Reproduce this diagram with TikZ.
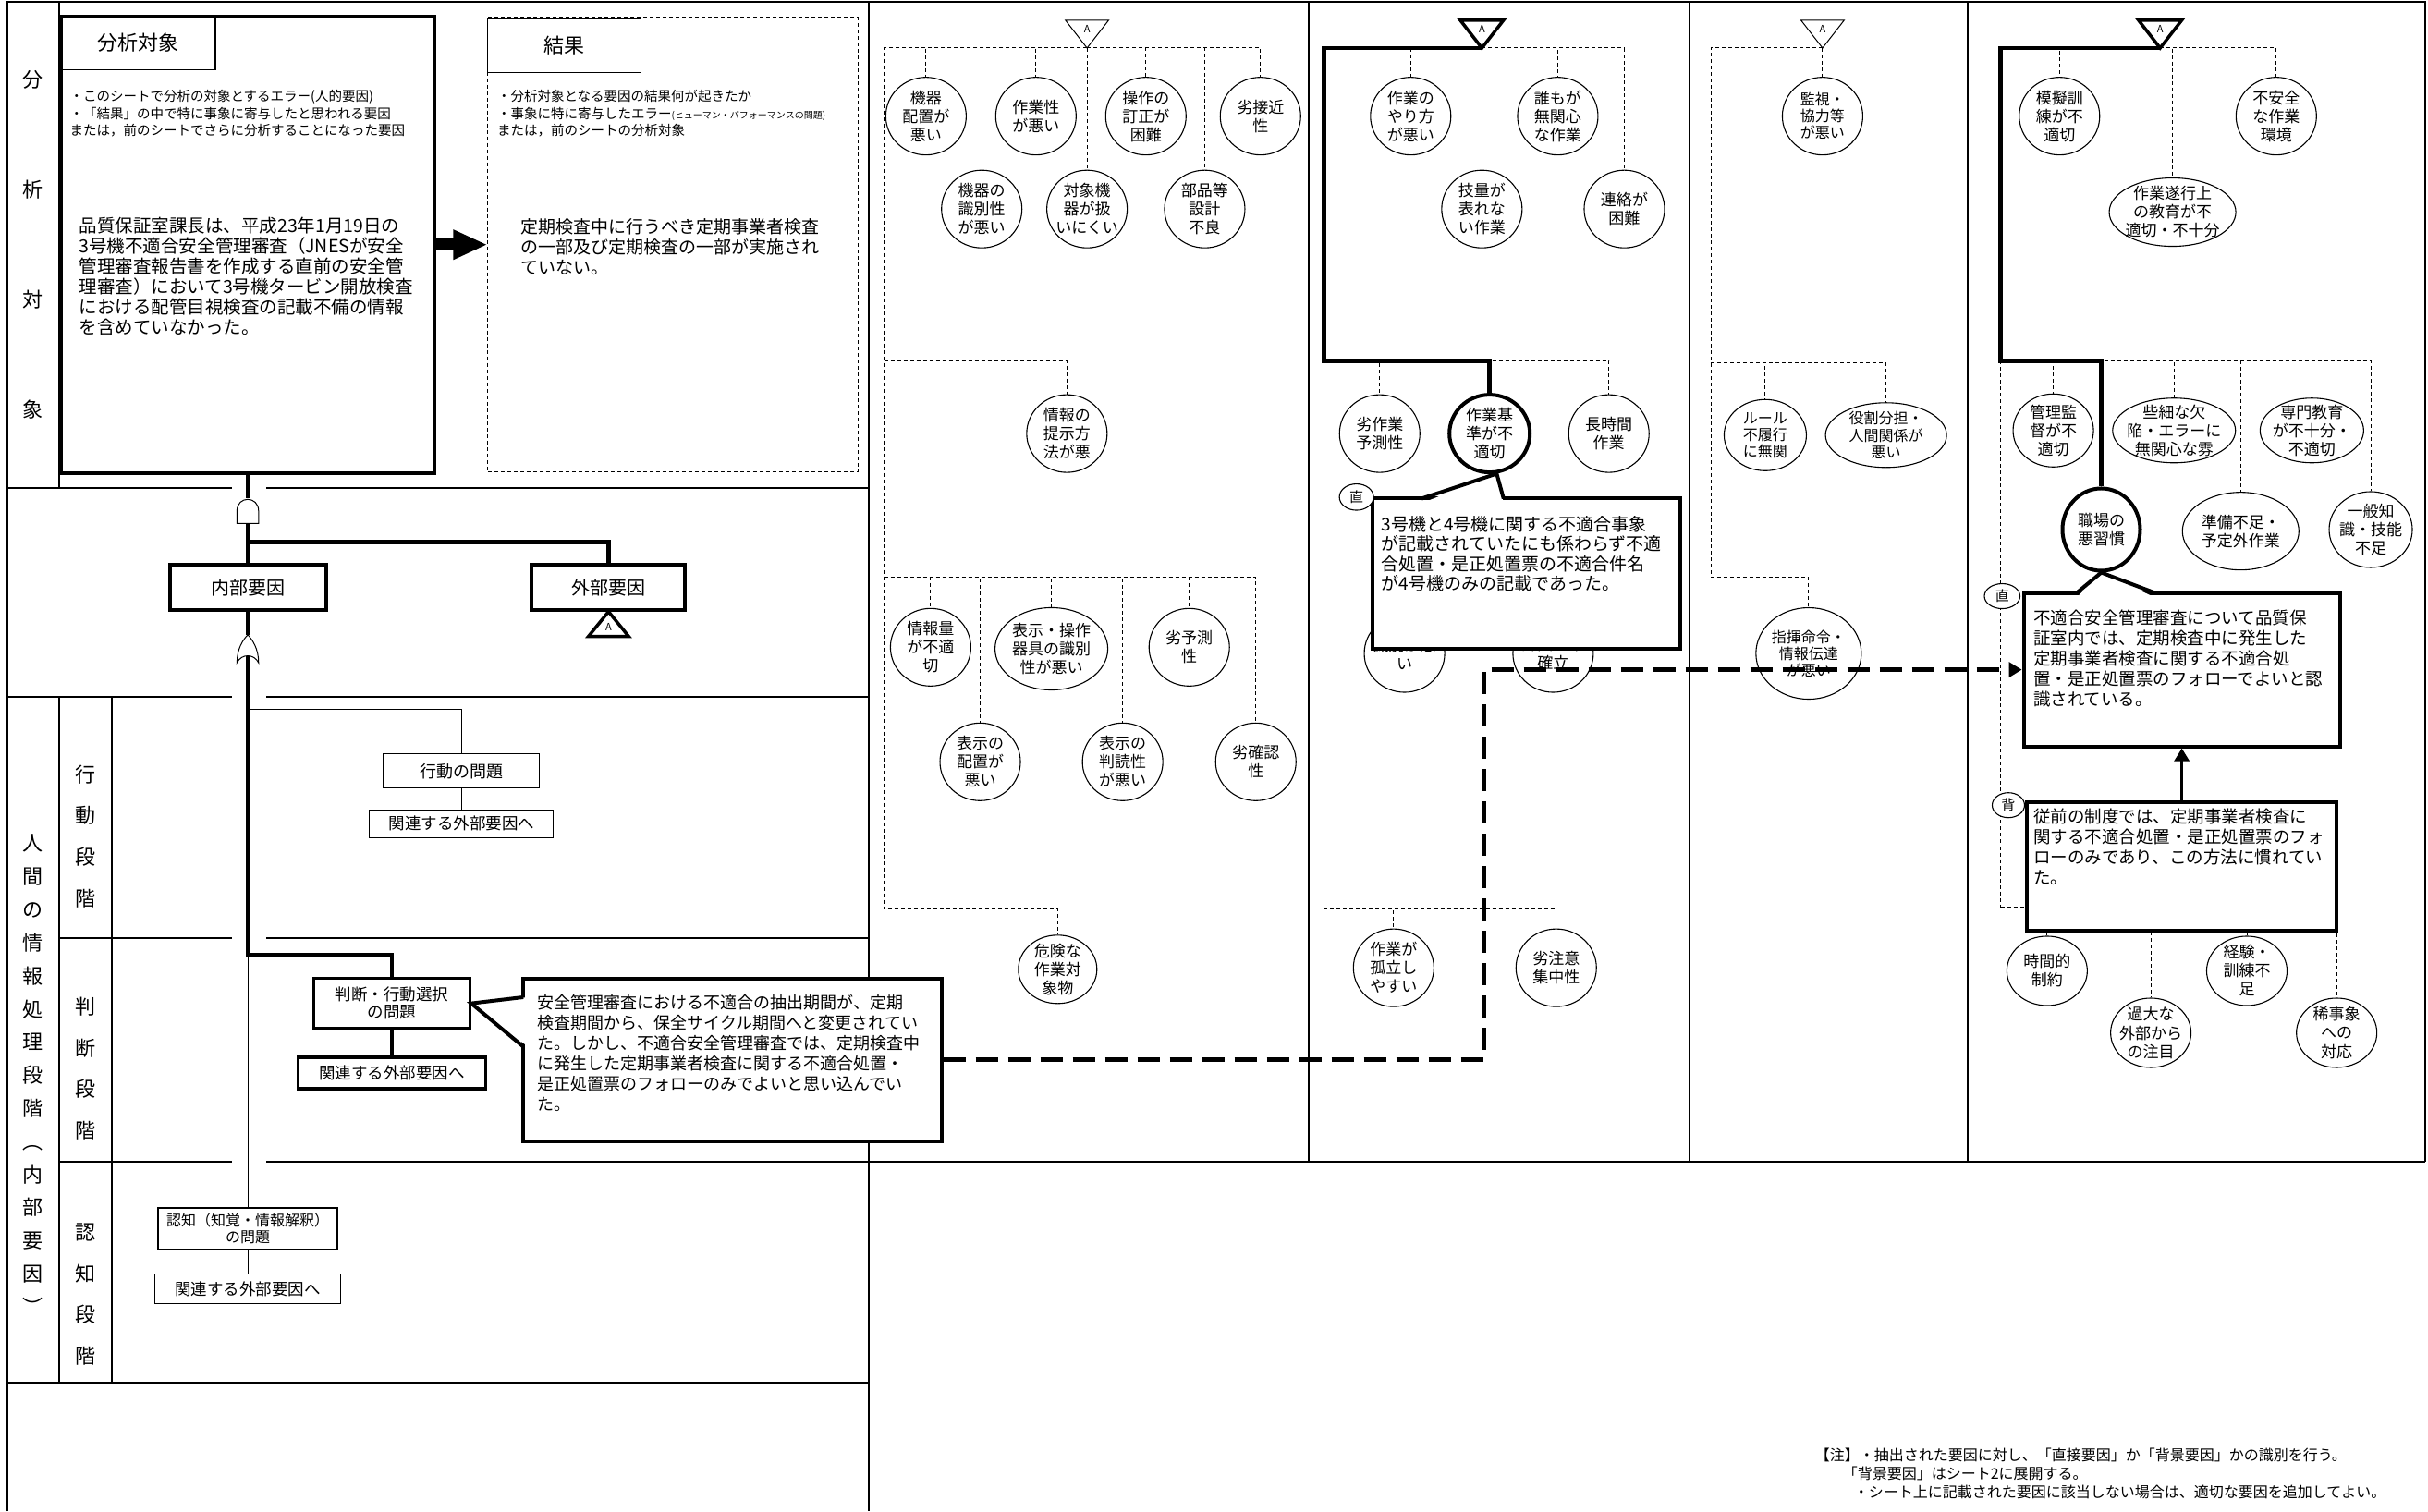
\documentclass[tikz,border=0pt]{standalone}
\usepackage{fontspec}
\setmainfont{Noto Sans CJK JP}
\usetikzlibrary{arrows.meta,shapes.geometric}
\newcommand{\fsize}[2]{\fontsize{#1}{#2}\selectfont}

\begin{document}
\begin{tikzpicture}[x=1.675pt,y=-1.675pt,
  gridln/.style={line width=2pt},
  thickln/.style={line width=4.5pt},
  thinln/.style={line width=1pt},
  treeln/.style={line width=1pt,dash pattern=on 4pt off 3pt},
  bigdash/.style={line width=5pt,dash pattern=on 24pt off 11pt},
  cause/.style={ellipse,draw,line width=1.1pt,fill=white,inner sep=-4pt,minimum width=87pt,minimum height=84pt,align=center,font=\fsize{17}{20}},
  keycause/.style={cause,line width=4pt},
  heavybox/.style={draw,line width=4pt,fill=white,inner sep=0pt,align=center},
  lightbox/.style={draw,line width=1.2pt,fill=white,inner sep=0pt,align=center},
  txtblock/.style={inner sep=0pt,align=left,anchor=north west},
  tagmark/.style={ellipse,draw,line width=1.1pt,fill=white,inner sep=0pt,font=\fsize{15}{15}},
  trithin/.style={line width=1pt,fill=white},
  trithick/.style={line width=3.5pt,fill=white},
  vlabel/.style={align=center,font=\fsize{22}{#1}}
]
\useasboundingbox (0,0) rectangle (1568,976);

% sheet frame
\draw[gridln] (5,976) -- (5,1) -- (1566,1) -- (1566,750);
\draw[gridln] (561,1) -- (561,976);
\draw[gridln] (845,1) -- (845,750) (1091,1) -- (1091,750) (1271,1) -- (1271,750);
\draw[gridln] (38,1) -- (38,315);
\draw[gridln] (5,315) -- (150,315) (172,315) -- (561,315);
\draw[gridln] (5,450) -- (150,450) (172,450) -- (561,450);
\draw[gridln] (38,450) -- (38,893) (72,450) -- (72,893);
\draw[gridln] (38,606) -- (150,606) (172,606) -- (561,606);
\draw[gridln] (38,750) -- (150,750) (172,750) -- (1566,750);
\draw[gridln] (5,893) -- (561,893);

\node[vlabel=119] (lblTarget) at (21,158) {分\\析\\対\\象};
\node[vlabel=35.8] (lblHuman) at (21,694) {人\\間\\の\\情\\報\\処\\理\\段\\階\\︵\\内\\部\\要\\因\\︶};
\node[vlabel=44.7] (lblAct) at (55,540) {行\\動\\段\\階};
\node[vlabel=44.7] (lblJudge) at (55,690) {判\\断\\段\\階};
\node[vlabel=44.7] (lblCog) at (55,836) {認\\知\\段\\階};

% analysis target and result
\node[heavybox,minimum width=404pt,minimum height=494pt] (target) at (160,158) {};
\node[lightbox,fill=none,minimum width=166pt,minimum height=58.6pt,font=\fsize{22}{22}] (targetHead) at (89.5,27.5) {分析対象};
\node[txtblock,font=\fsize{14.5}{18.4}] (targetNote) at (45,58) {・このシートで分析の対象とするエラー(人的要因)\\・「結果」の中で特に事象に寄与したと思われる要因\\または，前のシートでさらに分析することになった要因};
\node[txtblock,font=\fsize{19.5}{22}] (targetText) at (51,140) {品質保証室課長は、平成23年1月19日の\\3号機不適合安全管理審査（JNESが安全\\管理審査報告書を作成する直前の安全管\\理審査）において3号機タービン開放検査\\における配管目視検査の記載不備の情報\\を含めていなかった。};

\node[draw,line width=1pt,dash pattern=on 4pt off 3pt,inner sep=0pt,minimum width=400pt,minimum height=492pt] (result) at (434.5,158) {};
\node[lightbox,minimum width=166pt,minimum height=58.6pt,font=\fsize{22}{22}] (resultHead) at (364.5,29.5) {結果};
\node[txtblock,font=\fsize{14.5}{18.4}] (resultNote) at (321,58) {・分析対象となる要因の結果何が起きたか\\・事象に特に寄与したエラー{\fsize{10}{18.4}(ヒューマン・パフォーマンスの問題)}\\または，前のシートの分析対象};
\node[txtblock,font=\fsize{19}{22}] (resultText) at (336,141) {定期検査中に行うべき定期事業者検査\\の一部及び定期検査の一部が実施され\\ていない。};

\draw[line width=13.4pt,-{Triangle[length=37pt,width=30pt]}] (target.east) -- (result.west);

% internal / external factors
\node[heavybox,minimum width=169pt,minimum height=49pt,font=\fsize{20}{20}] (internal) at (160,379.5) {内部要因};
\node[heavybox,minimum width=166pt,minimum height=49pt,font=\fsize{20}{20}] (external) at (393,379.5) {外部要因};
\node[lightbox,minimum width=169pt,minimum height=37pt,font=\fsize{18}{18}] (action) at (298,498) {行動の問題};
\node[lightbox,minimum width=199pt,minimum height=30pt,font=\fsize{17.5}{17.5}] (actionRel) at (298,532) {関連する外部要因へ};
\node[heavybox,line width=3pt,minimum width=169pt,minimum height=54pt,font=\fsize{17.5}{19}] (judge) at (253,648) {判断・行動選択\\の問題};
\node[heavybox,line width=3.5pt,minimum width=203pt,minimum height=34pt,font=\fsize{17.5}{17.5}] (judgeRel) at (253,693) {関連する外部要因へ};
\node[lightbox,minimum width=194pt,minimum height=45pt,font=\fsize{16}{18}] (cognition) at (160,793.5) {認知（知覚・情報解釈）\\の問題};
\node[lightbox,minimum width=201pt,minimum height=32pt,font=\fsize{17.5}{17.5}] (cognitionRel) at (160,832.5) {関連する外部要因へ};

\coordinate (andTop) at (160,322);
\coordinate (andBot) at (160,338);
\coordinate (split) at (160,350);
\coordinate (orTop) at (160,410);
\coordinate (orBot) at (160,424);
\coordinate (actTap) at (160,458);
\coordinate (judgeTurn) at (160,617);
\draw[thickln] (target.south) -- (andTop);
\draw[thickln] (andBot) -- (internal.north);
\draw[thickln] (split) -| (external.north);
\draw[thickln] (internal.south) -- (orTop);
\draw[thinln] (actTap) -| (action.north);
\draw[thinln] (action.south) -- (actionRel.north);
\draw[thinln] (judgeTurn) -- (cognition.north);
\draw[thinln] (cognition.south) -- (cognitionRel.north);
\draw[thickln] (orBot) -- (judgeTurn) -| (judge.north);
\draw[line width=3.5pt] (judge.south) -- (judgeRel.north);
\draw[thinln,fill=white] (153,338) -- (153,330) .. controls (153,320) and (167,320) .. (167,330) -- (167,338) -- cycle;
\draw[thinln,fill=white] (153,428) .. controls (153,419) and (157,413) .. (orTop) .. controls (163,413) and (167,419) .. (167,428) .. controls (164,422) and (156,422) .. (153,428) -- cycle;
\coordinate (extA) at (393,395);
\draw[trithick] (extA) -- ++(13,16) -- ++(-26,0) -- cycle;
\node[font=\fsize{11}{11}] (lblExtA) at (393,405) {A};

% judgement callout
\node[heavybox,minimum width=452pt,minimum height=176pt] (callJ) at (473,684.5) {};
\fill[white] (341,644) -- (judge.east) -- (341,676) -- cycle;
\draw[line width=4pt] (338,644) -- (judge.east) -- (338,676);
\node[txtblock,font=\fsize{18}{22}] (callJText) at (347,642.5) {安全管理審査における不適合の抽出期間が、定期\\検査期間から、保全サイクル期間へと変更されてい\\た。しかし、不適合安全管理審査では、定期検査中\\に発生した定期事業者検査に関する不適合処置・\\是正処置票のフォローのみでよいと思い込んでい\\た。};

% column 2
\node[cause] (e2a) at (598,75) {機器\\配置が\\悪い};
\node[cause] (e2b) at (669,75) {作業性\\が悪い};
\node[cause] (e2c) at (740,75) {操作の\\訂正が\\困難};
\node[cause] (e2d) at (814,75) {劣接近\\性};
\node[cause] (e2e) at (634,135) {機器の\\識別性\\が悪い};
\node[cause] (e2f) at (702,135) {対象機\\器が扱\\いにくい};
\node[cause] (e2g) at (778,135) {部品等\\設計\\不良};
\node[cause] (e2h) at (689,280) {情報の\\提示方\\法が悪};
\node[cause] (e2i) at (601,418) {情報量\\が不適\\切};
\node[cause,minimum width=122pt,minimum height=89pt] (e2j) at (679,419) {表示・操作\\器具の識別\\性が悪い};
\node[cause] (e2k) at (768,418) {劣予測\\性};
\node[cause] (e2l) at (633,492) {表示の\\配置が\\悪い};
\node[cause] (e2m) at (725,492) {表示の\\判読性\\が悪い};
\node[cause] (e2n) at (811,492) {劣確認\\性};
\node[cause,minimum width=85pt,minimum height=74pt] (e2o) at (683,626) {危険な\\作業対\\象物};
\coordinate (tA2) at (702,31);
\coordinate (t2a) at (571,31);
\coordinate (t2b) at (571,233);
\coordinate (t2c) at (571,373);
\coordinate (t2d) at (571,587);
\draw[treeln] (tA2) -- (t2a) -- (t2d) -| (e2o.north);
\draw[treeln] (tA2) -| (e2a.north) (tA2) -| (e2b.north) (tA2) -| (e2c.north) (tA2) -| (e2d.north)
  (tA2) -| (e2e.north) (tA2) -| (e2f.north) (tA2) -| (e2g.north);
\draw[treeln] (t2b) -| (e2h.north);
\draw[treeln] (t2c) -| (e2i.north) (t2c) -| (e2j.north) (t2c) -| (e2k.north)
  (t2c) -| (e2l.north) (t2c) -| (e2m.north) (t2c) -| (e2n.north);
\draw[trithin] (tA2) -- ++(-14,-18) -- ++(28,0) -- cycle;
\node[font=\fsize{11}{11}] (lblA2) at (702,19) {A};

% column 3
\node[cause] (e3a) at (911,75) {作業の\\やり方\\が悪い};
\node[cause] (e3b) at (1006,75) {誰もが\\無関心\\な作業};
\node[cause] (e3c) at (957,135) {技量が\\表れな\\い作業};
\node[cause] (e3d) at (1049,135) {連絡が\\困難};
\node[cause] (e3e) at (891,280) {劣作業\\予測性};
\node[keycause] (e3f) at (962,280) {作業基\\準が不\\適切};
\node[cause] (e3g) at (1039,280) {長時間\\作業};
\node[cause] (e3h) at (907,422) {識別が悪\\い};
\node[cause] (e3i) at (1003,422) {計画が未\\確立};
\node[cause] (e3j) at (900,625) {作業が\\孤立し\\やすい};
\node[cause] (e3k) at (1005,625) {劣注意\\集中性};
\coordinate (tA3) at (957,31);
\coordinate (t3a) at (855,31);
\coordinate (t3b) at (855,233);
\coordinate (t3c) at (855,374);
\coordinate (t3d) at (855,587);
\draw[treeln] (tA3) -| (e3a.north) (tA3) -| (e3b.north) (tA3) -| (e3c.north) (tA3) -| (e3d.north);
\draw[treeln] (t3b) -| (e3e.north) (t3b) -| (e3g.north) (t3b) -- (t3d);
\draw[treeln] (t3c) -| (e3h.north) (t3c) -| (e3i.north);
\draw[treeln] (t3d) -| (e3j.north) (t3d) -| (e3k.north);
\draw[thickln] (tA3) -- (t3a) -- (t3b) -| (e3f.north);
\draw[trithick] (tA3) -- ++(-14,-18) -- ++(28,0) -- cycle;
\node[font=\fsize{11}{11}] (lblA3) at (957,19) {A};

% column 4
\node[cause,font=\fsize{16}{18}] (e4a) at (1177,75) {監視・\\協力等\\が悪い};
\node[cause,font=\fsize{16}{18},minimum width=89pt,minimum height=77pt] (e4b) at (1140,281) {ルール\\不履行\\に無関};
\node[cause,font=\fsize{16}{18},minimum width=131pt,minimum height=70pt] (e4c) at (1218,281) {役割分担・\\人間関係が\\悪い};
\node[cause,font=\fsize{16}{18},minimum width=114pt,minimum height=99pt] (e4d) at (1168,422) {指揮命令・\\情報伝達\\が悪い};
\coordinate (tA4) at (1177,31);
\coordinate (t4a) at (1105,31);
\coordinate (t4b) at (1105,234);
\coordinate (t4c) at (1105,373);
\draw[treeln] (tA4) -- (e4a.north) (tA4) -- (t4a) -- (t4c) -| (e4d.north);
\draw[treeln] (t4b) -| (e4b.north) (t4b) -| (e4c.north);
\draw[trithin] (tA4) -- ++(-14,-18) -- ++(28,0) -- cycle;
\node[font=\fsize{11}{11}] (lblA4) at (1177,19) {A};

% column 5
\node[cause] (e5a) at (1330,75) {模擬訓\\練が不\\適切};
\node[cause] (e5b) at (1470,75) {不安全\\な作業\\環境};
\node[cause,minimum width=137pt,minimum height=74pt] (e5c) at (1403,137) {作業遂行上\\の教育が不\\適切・不十分};
\node[cause,minimum height=79pt] (e5d) at (1326,278) {管理監\\督が不\\適切};
\node[cause,minimum width=131pt,minimum height=70pt] (e5e) at (1404,278) {些細な欠\\陥・エラーに\\無関心な雰};
\node[cause,minimum width=112pt,minimum height=70pt] (e5f) at (1493,278) {専門教育\\が不十分・\\不適切};
\node[keycause,minimum width=84pt,minimum height=89pt] (e5g) at (1357,342) {職場の\\悪習慣};
\node[cause,minimum width=126pt] (e5h) at (1447,343) {準備不足・\\予定外作業};
\node[cause,minimum width=90pt,minimum height=82pt] (e5i) at (1531,342) {一般知\\識・技能\\不足};
\node[cause,minimum height=75pt] (e5j) at (1322,627) {時間的\\制約};
\node[cause,minimum height=75pt] (e5k) at (1389,667) {過大な\\外部から\\の注目};
\node[cause,minimum height=75pt] (e5l) at (1451,627) {経験・\\訓練不\\足};
\node[cause,minimum height=75pt] (e5m) at (1509,667) {稀事象\\への\\対応};
\coordinate (tA5) at (1395,31);
\coordinate (t5a) at (1292,31);
\coordinate (t5b) at (1292,233);
\coordinate (t5c) at (1292,586);
\draw[treeln] (tA5) -| (e5a.north) (tA5) -| (e5c.north) (tA5) -| (e5b.north);
\draw[treeln] (t5b) -| (e5d.north) (t5b) -| (e5e.north) (t5b) -| (e5h.north)
  (t5b) -| (e5f.north) (t5b) -| (e5i.north) (t5b) -- (t5c);
\draw[treeln] (t5c) -| (e5j.north) (t5c) -| (e5k.north) (t5c) -| (e5l.north) (t5c) -| (e5m.north);
\draw[thickln] (tA5) -- (t5a) -- (t5b) -| (e5g.north);
\draw[trithick] (tA5) -- ++(-14,-18) -- ++(28,0) -- cycle;
\node[font=\fsize{11}{11}] (lblA5) at (1395,19) {A};

% link from the judgement callout
\coordinate (jog) at (958,432.5);
\node[heavybox,minimum width=342pt,minimum height=166pt] (direct5) at (1409,432.5) {};
\draw[bigdash,-{Triangle[length=14pt,width=16pt]}] (callJ.east) -| (jog) -- (direct5.west);

% column 3 callout
\node[heavybox,minimum width=333pt,minimum height=162.5pt] (call3) at (985.5,370.5) {};
\fill[white] (918,325) -- (e3f.-80) -- (971,325) -- cycle;
\draw[line width=4pt] (918,322) -- (e3f.-80) -- (971,322);
\node[tagmark,minimum width=37pt,minimum height=28.5pt] (tag3) at (876,321) {直};
\node[txtblock,font=\fsize{19}{21.5}] (call3Text) at (892,333) {3号機と4号機に関する不適合事象\\が記載されていたにも係わらず不適\\合処置・是正処置票の不適合件名\\が4号機のみの記載であった。};

% column 5 callouts
\fill[white] (1341,386) -- (e5g.south) -- (1392,386) -- cycle;
\draw[line width=4pt] (1341,383) -- (e5g.south) -- (1392,383);
\node[tagmark,minimum width=38.5pt,minimum height=27pt] (tag5a) at (1293,385) {直};
\node[txtblock,font=\fsize{18.5}{22}] (direct5Text) at (1313,394) {不適合安全管理審査について品質保\\証室内では、定期検査中に発生した\\定期事業者検査に関する不適合処\\置・是正処置票のフォローでよいと認\\識されている。};
\node[heavybox,minimum width=335pt,minimum height=139pt] (bg5) at (1409,559.5) {};
\node[tagmark,minimum width=35pt,minimum height=27pt] (tag5b) at (1297,520) {背};
\node[txtblock,font=\fsize{18.5}{22}] (bg5Text) at (1313,522) {従前の制度では、定期事業者検査に\\関する不適合処置・是正処置票のフォ\\ローのみであり、この方法に慣れてい\\た。};
\draw[line width=3.5pt,-{Triangle[length=14pt,width=16pt]}] (bg5.north) -- (direct5.south);

% note
\node[txtblock,font=\fsize{16}{20}] (note) at (1172,935) {【注】・抽出された要因に対し、「直接要因」か「背景要因」かの識別を行う。\\\hspace*{30pt}「背景要因」はシート2に展開する。\\\hspace*{42pt}・シート上に記載された要因に該当しない場合は、適切な要因を追加してよい。};
\end{tikzpicture}
\end{document}
